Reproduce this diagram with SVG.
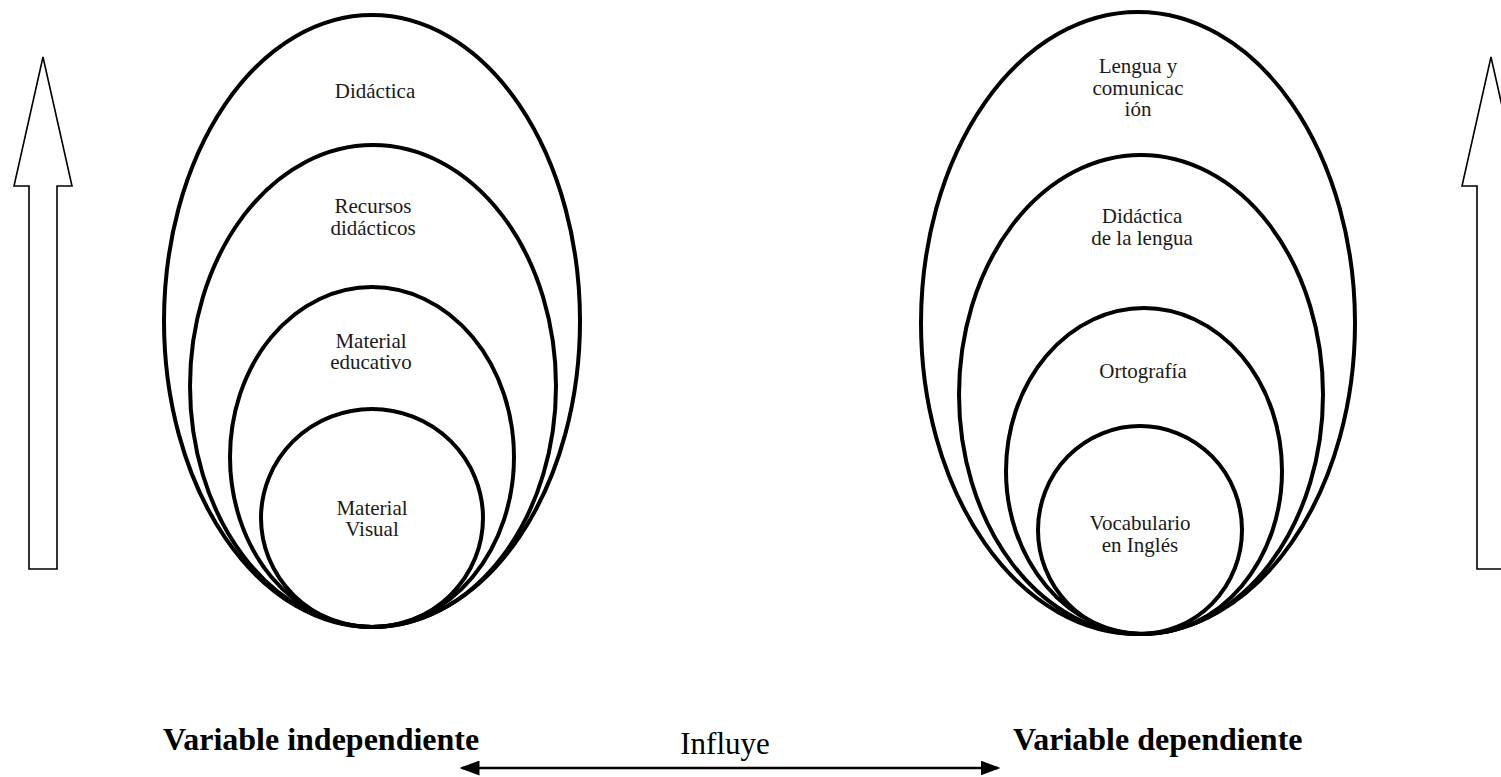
<svg xmlns="http://www.w3.org/2000/svg" width="1501" height="777" viewBox="0 0 1501 777">
<style>
.ring{fill:none;stroke:#000;stroke-width:4}
.lbl{font-family:"Liberation Serif","Times New Roman",serif;font-size:21px;fill:#1a1a1a;text-anchor:middle}
.big{font-family:"Liberation Serif","Times New Roman",serif;font-size:31px;fill:#000}
.bold{font-weight:bold;font-size:32px}
.uparrow{fill:#fff;stroke:#000;stroke-width:1.6;stroke-linejoin:miter}
</style>
<defs>
<marker id="ah" markerWidth="8" markerHeight="6" refX="7" refY="3" orient="auto-start-reverse" markerUnits="strokeWidth">
<path d="M0,0 L8,3 L0,6 Z" fill="#000"/>
</marker>
<polygon id="up" points="43,57 72,186 57,186 57,569 29,569 29,186 14,186"/>
</defs>
<rect width="1501" height="777" fill="#fff"/>
<g id="arrow-left"><use href="#up" class="uparrow"/></g>
<g id="arrow-right"><use href="#up" class="uparrow" transform="translate(1448,0)"/></g>
<g id="didactica">
<ellipse class="ring" cx="372" cy="321" rx="208" ry="306"/>
<text class="lbl" x="375" y="98">Didáctica</text>
</g>
<g id="recursos">
<ellipse class="ring" cx="373" cy="386" rx="183" ry="241"/>
<text class="lbl" x="373" y="213">Recursos</text>
<text class="lbl" x="373" y="235">didácticos</text>
</g>
<g id="material-educativo">
<ellipse class="ring" cx="372" cy="457" rx="142" ry="170"/>
<text class="lbl" x="371" y="348">Material</text>
<text class="lbl" x="371" y="369">educativo</text>
</g>
<g id="material-visual">
<ellipse class="ring" cx="372" cy="518" rx="111" ry="109"/>
<text class="lbl" x="372" y="515">Material</text>
<text class="lbl" x="372" y="536">Visual</text>
</g>
<g id="lengua">
<ellipse class="ring" cx="1138" cy="323" rx="217" ry="311"/>
<text class="lbl" x="1138" y="73">Lengua y</text>
<text class="lbl" x="1138" y="95">comunicac</text>
<text class="lbl" x="1138" y="116">ión</text>
</g>
<g id="didactica-lengua">
<ellipse class="ring" cx="1141" cy="394.5" rx="182" ry="239.5"/>
<text class="lbl" x="1142" y="223">Didáctica</text>
<text class="lbl" x="1142" y="245">de la lengua</text>
</g>
<g id="ortografia">
<ellipse class="ring" cx="1144" cy="471" rx="138" ry="163"/>
<text class="lbl" x="1143" y="378">Ortografía</text>
</g>
<g id="vocabulario">
<ellipse class="ring" cx="1140" cy="530" rx="102" ry="104"/>
<text class="lbl" x="1140" y="530">Vocabulario</text>
<text class="lbl" x="1140" y="552">en Inglés</text>
</g>
<g id="var-indep"><text class="big bold" x="163" y="750">Variable independiente</text></g>
<g id="var-dep"><text class="big bold" x="1013" y="750">Variable dependiente</text></g>
<g id="connectors">
<line x1="462" y1="768" x2="998" y2="768" stroke="#000" stroke-width="2.5" marker-start="url(#ah)" marker-end="url(#ah)"/>
<text class="big" x="725" y="754" text-anchor="middle">Influye</text>
</g>
</svg>
